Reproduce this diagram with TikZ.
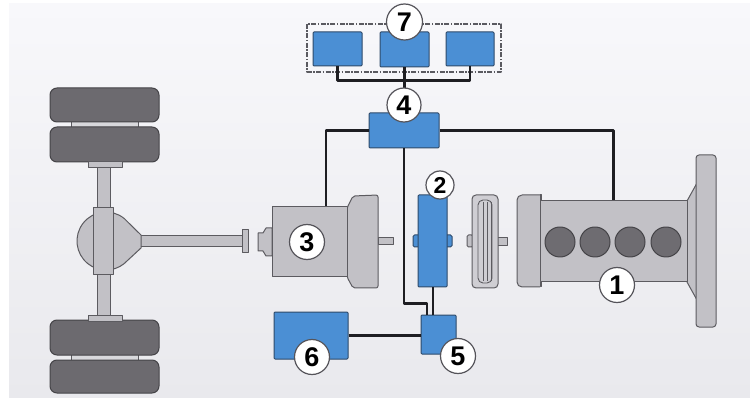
\documentclass[tikz,border=0pt]{standalone}
\usepackage{fontspec}
\newfontfamily\lblfont{Liberation Sans}
\begin{document}
\begin{tikzpicture}[x=1pt,y=-1pt,
  line join=round,
  partgray/.style={fill=partfill,draw=partline,line width=1pt},
  lightgray/.style={fill=lightfill,draw=partline,line width=1pt},
  tyre/.style={fill=tyrefill,draw=tyreline,line width=1pt,rounded corners=7pt},
  bluebox/.style={rectangle,fill=boxblue,draw=boxline,line width=1pt,inner sep=0pt,rounded corners=1pt},
  wire/.style={draw=wirec,line width=2.2pt},
  callout/.style={circle,fill=white,draw=calloutline,line width=1.2pt,inner sep=0pt,
    minimum size=35pt,font=\lblfont\bfseries\fontsize{27}{27}\selectfont},
  groupframe/.style={draw=framec,line width=1.3pt,dash pattern=on 5pt off 1.5pt on 1.5pt off 1.5pt}
]
\definecolor{partfill}{HTML}{C2C1C6}
\definecolor{lightfill}{HTML}{CFCED3}
\definecolor{partline}{HTML}{5C5B60}
\definecolor{tyrefill}{HTML}{6C6A6F}
\definecolor{tyreline}{HTML}{454448}
\definecolor{cylfill}{HTML}{6E6C71}
\definecolor{boxblue}{HTML}{4B8FD4}
\definecolor{boxline}{HTML}{2E4A6A}
\definecolor{wirec}{HTML}{1E1E22}
\definecolor{calloutline}{HTML}{55545A}
\definecolor{framec}{HTML}{5A5A60}
\definecolor{bgtop}{HTML}{F8F8FB}
\definecolor{bgbottom}{HTML}{E9E9ED}

% canvas
\fill[white] (0,0) rectangle (750,398);
\shade[top color=bgtop,bottom color=bgbottom] (9,4) rectangle (750,398);
\useasboundingbox (0,0) rectangle (750,398);

% ---------- rear axle and wheels ----------
\fill[lightfill!80!white,draw=partline,line width=0.6pt] (71,121) rectangle (138,128);
\fill[lightfill!80!white,draw=partline,line width=0.6pt] (71,354) rectangle (138,361);
\draw[tyre] (50,88) rectangle (159,122);
\draw[tyre] (50,127) rectangle (159,162);
\draw[tyre] (50,320) rectangle (159,355);
\draw[tyre] (50,360) rectangle (159,393);
\draw[partgray] (97,168) rectangle (110,210);
\draw[partgray] (97,273) rectangle (110,315);
\draw[partgray] (88,162) rectangle (122,168);
\draw[partgray] (88,315) rectangle (122,321);
% propeller shaft and flange
\draw[partgray] (138,236) rectangle (242,247);
\draw[partgray] (242,230) rectangle (248,253);
% differential housing
\draw[partgray] (124,218.3) arc[start angle=-51.6,end angle=-308.4,radius=29]
  -- (141,248) -- (141,235) -- cycle;
\draw[partgray] (93,208) rectangle (113,275);

% ---------- gearbox ----------
\draw[partgray] (258,233) -- (263,233) -- (266,228) -- (272,228) -- (272,256)
  -- (266,256) -- (263,251) -- (258,251) -- cycle;
\draw[partgray] (378,238) rectangle (393,245);
\draw[partgray,rounded corners=2pt] (347,208) -- (353,196) -- (378,195) -- (378,288)
  -- (353,288) -- (347,277) -- cycle;
\node[partgray,rectangle,minimum width=75pt,minimum height=70pt,inner sep=0pt]
  (trans) at (309.5,242) {};

% ---------- electric machine ----------
\draw[fill=boxblue,draw=boxline,line width=1pt,rounded corners=1.5pt] (413,235) rectangle (452,247);
\node[bluebox,minimum width=29pt,minimum height=92pt] (motor) at (432.5,241) {};

% ---------- clutch ----------
\draw[partgray,rounded corners=1.5pt] (467,235) rectangle (473,247);
\draw[partgray] (497,238) rectangle (507,246);
\node[lightgray,rectangle,rounded corners=4pt,minimum width=26pt,minimum height=93pt,
  inner sep=0pt] (clutch) at (485,241.5) {};
\draw[partline,line width=0.9pt,rounded corners=5pt] (478,200) rectangle (492,283);
\draw[partline,line width=0.8pt] (483,202) -- (483,281) (487,202) -- (487,281) (491,202) -- (491,281);

% ---------- combustion engine ----------
\draw[partgray,rounded corners=5pt] (540,195) -- (517,195) -- (517,287) -- (540,287);
\draw[partgray] (540,195) rectangle (541,287);
\draw[partgray] (687,201) -- (697,183) -- (697,300) -- (687,282) -- cycle;
\draw[partgray,rounded corners=3pt] (696,155) rectangle (716,327);
\node[partgray,rectangle,minimum width=147pt,minimum height=81pt,inner sep=0pt]
  (engine) at (613.5,241.5) {};
\foreach \cx in {560,595,630,666}
  \draw[fill=cylfill,draw=tyreline,line width=1pt] (\cx,242) circle[radius=15];

% ---------- control units ----------
\node[bluebox,minimum width=70pt,minimum height=35pt] (ecu) at (404,130.5) {};
\node[bluebox,minimum width=35pt,minimum height=39pt] (inv) at (438.5,334.5) {};
\node[bluebox,minimum width=74pt,minimum height=47pt] (batt) at (311,335.5) {};
\node[bluebox,minimum width=49pt,minimum height=34pt] (dispL) at (337.5,49) {};
\node[bluebox,minimum width=49pt,minimum height=35pt] (dispM) at (404.5,49.5) {};
\node[bluebox,minimum width=48pt,minimum height=34pt] (dispR) at (470,49) {};
\draw[groupframe] (307,24) rectangle (501,72);

% ---------- wiring ----------
\draw[wire] (dispL.south) -- ++(0,14) -| (dispR.south);
\draw[wire] (dispM.south) -- (dispM.south |- ecu.north);
\draw[wire] (ecu.west) -| ([xshift=16.5pt]trans.north);
\draw[wire] (ecu.east) -| (engine.north);
\draw[wire] (ecu.south) -- ++(0,155) -| ([xshift=-11.5pt]inv.north);
\draw[wire] ([xshift=0.5pt]motor.south) -- ([xshift=0.5pt]motor.south |- inv.north);
\draw[wire] (batt.east) -- (batt.east -| inv.west);

% ---------- callouts ----------
\node[callout] (c1) at (617,285) {1};
\node[callout,minimum size=28pt,font=\lblfont\bfseries\fontsize{23}{23}\selectfont]
  (c2) at (440,185) {2};
\node[callout] (c3) at (307,242) {3};
\node[callout,minimum size=34pt] (c4) at (404,105) {4};
\node[callout] (c5) at (458,356) {5};
\node[callout] (c6) at (312,357) {6};
\node[callout,minimum size=36pt] (c7) at (404.5,22) {7};
\end{tikzpicture}
\end{document}
